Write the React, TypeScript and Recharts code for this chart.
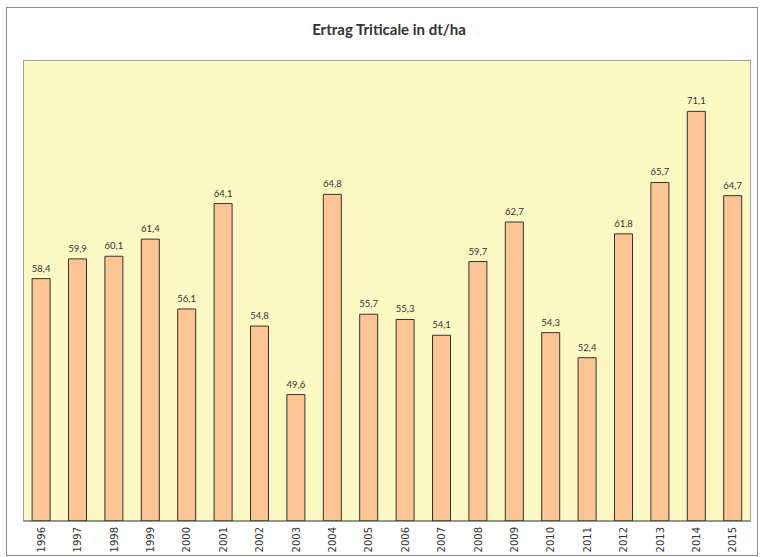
import React from 'react';
import { BarChart, Bar, XAxis, YAxis, CartesianGrid, LabelList } from 'recharts';

const years = ['1996', '1997', '1998', '1999', '2000', '2001', '2002', '2003', '2004', '2005',
  '2006', '2007', '2008', '2009', '2010', '2011', '2012', '2013', '2014', '2015'];
const ertrag = [58.4, 59.9, 60.1, 61.4, 56.1, 64.1, 54.8, 49.6, 64.8, 55.7,
  55.3, 54.1, 59.7, 62.7, 54.3, 52.4, 61.8, 65.7, 71.1, 64.7];
const yDomain = [40, 75];

const data = years.map((year, i) => ({ year, value: ertrag[i] }));

const YearTick = ({ x, y, payload }: any) => (
  <text
    transform={`translate(${x},${y - 2}) rotate(-90)`}
    textAnchor="end"
    dominantBaseline="central"
    fontFamily="'DejaVu Sans', sans-serif"
    fontSize={10}
    fill="#333"
  >
    {payload.value}
  </text>
);

export default function App() {
  return (
    <div style={{ position: 'absolute', left: 0, top: 0, width: 760, height: 557, background: '#fff' }}>
      <div style={{
        position: 'absolute', left: 6, top: 7, width: 752, height: 549,
        boxSizing: 'border-box', border: '1px solid #8c8c8c'
      }} />
      <div style={{
        position: 'absolute', left: 0, top: 20, width: 778, textAlign: 'center',
        fontFamily: 'Lato, sans-serif', fontWeight: 700, fontSize: 15, color: '#333'
      }}>
        Ertrag Triticale in dt/ha
      </div>
      <div style={{ position: 'absolute', left: 0, top: 0 }}>
        <BarChart width={760} height={557} data={data} barCategoryGap="25%"
          margin={{ top: 60, right: 9, left: 23, bottom: 0 }}>
          <CartesianGrid horizontal={false} vertical={false} fill="#fcf8c4" fillOpacity={1} />
          <XAxis dataKey="year" height={36} interval={0} tickLine={false}
            axisLine={{ stroke: '#333' }} tick={<YearTick />} />
          <YAxis hide domain={yDomain} allowDataOverflow />
          <Bar dataKey="value" fill="#fdc593" stroke="#333" strokeWidth={1} isAnimationActive={false}>
            <LabelList dataKey="value" position="top" offset={7}
              formatter={(v: any) => String(v).replace('.', ',')}
              style={{ fontFamily: 'Lato, sans-serif', fontSize: 9.5, fill: '#333' }} />
          </Bar>
        </BarChart>
      </div>
      <div style={{
        position: 'absolute', left: 23, top: 60, width: 728, height: 461,
        boxSizing: 'border-box', borderTop: '1px solid #a0a0a0', borderLeft: '1px solid #a0a0a0',
        borderRight: '1px solid #a0a0a0', pointerEvents: 'none'
      }} />
    </div>
  );
}
